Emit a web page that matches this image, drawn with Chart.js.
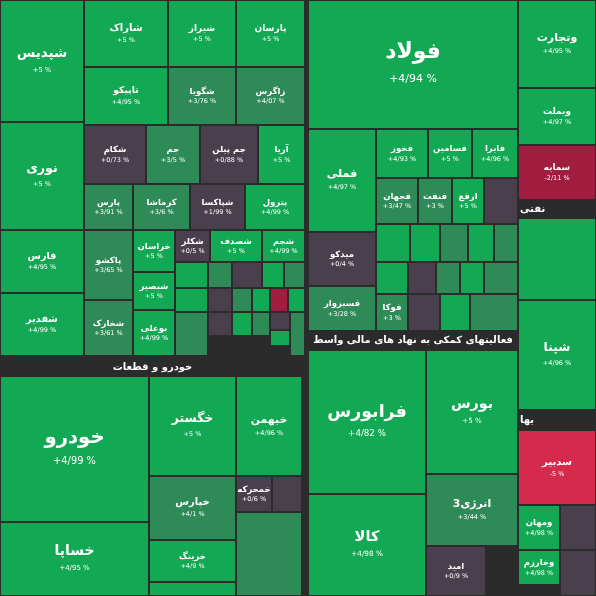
<!DOCTYPE html>
<html><head><meta charset="utf-8">
<script src="https://cdn.jsdelivr.net/npm/chart.js@4.4.0/dist/chart.umd.min.js"></script>
<style>body{margin:0;background:#2b2b2b}canvas{display:block}</style>
</head><body><canvas id="c" width="596" height="596"></canvas>
<script>
const names=["شپدیس","نوری","فارس","شفدیر","شاراک","تاپیکو","شکام","پارس","پاکشو","شخارک","شیراز","پارسان","شگویا","زاگرس","جم","جم پیلن","آریا","کرماشا","شپاکسا","پترول","خراسان","شکلر","شصدف","شجم","شبصیر","بوعلی",
"خودرو","خساپا","خگستر","خبهمن","خپارس","خمحرکه","خرینگ","خصن",
"فولاد","فملی","فخوز","فسامین","فایرا","فجهان","فنفت","ارفع","","میدکو","فسبزوار","فوکا","فرابورس","بورس","کالا","انرژی3","امید",
"وتجارت","وبملت","سمایه","","شپنا","سدبیر","ومهان","وخارزم","","",
"","","","","","","","","","","","","","","","","","",
"","","","","","","","","","","","","","",""];
const values=[5,5,4.95,4.99,5,4.95,0.73,3.91,3.65,3.61,5,5,3.76,4.07,3.5,0.88,5,3.6,1.99,4.99,5,0.5,5,4.99,5,4.99,
4.99,4.95,5,4.96,4.1,0.6,4.9,4.9,
4.94,4.97,4.93,5,4.96,3.47,3,5,0.3,0.4,3.28,3,4.82,5,4.98,3.44,0.9,
4.95,4.97,-2.11,4.9,4.96,-5,4.98,4.98,0.5,0.5,
4.9,3.5,0.5,4.9,3.4,4.9,0.5,3.6,4.9,-1,4.9,3.5,0.5,4.9,3.5,4.9,0.5,3.5,
4.9,4.9,3.5,4.9,3.5,4.9,0.5,3.5,4.9,3.5,0.5,4.9,3.5,0.5,3.5];
const sectors=["خودرو و قطعات","فعالیتهای کمکی به نهاد های مالی واسط","نفتی","یها"];
// layout rectangles [x0,y0,x1,y1] in the 0..596 data space
const layout=[[0,0,84,122],[0,122,84,230],[0,230,84,293],[0,293,84,356],[84,0,168,67],[84,67,168,125],[84,125,146,184],[84,184,133,230],[84,230,133,300],[84,300,133,356],[168,0,236,67],[236,0,305,67],[168,67,236,125],[236,67,305,125],[146,125,200,184],[200,125,258,184],[258,125,305,184],[133,184,190,230],[190,184,245,230],[245,184,305,230],[133,230,175,272],[175,230,210,262],[210,230,262,262],[262,230,305,262],[133,272,175,310],[133,310,175,356],
[0,376,149,522],[0,522,149,596],[149,376,236,476],[236,376,302,476],[149,476,236,540],[236,476,272,512],[149,540,236,582],[149,582,236,596],
[308,0,518,129],[308,129,376,232],[376,129,428,178],[428,129,472,178],[472,129,518,178],[376,178,418,224],[418,178,452,224],[452,178,484,224],[484,178,518,224],[308,232,376,286],[308,286,376,331],[376,294,408,331],
[308,350,426,494],[426,350,518,474],[308,494,426,596],[426,474,518,546],[426,546,486,596],
[518,0,596,88],[518,88,596,145],[518,145,596,200],[518,218,596,300],[518,300,596,410],[518,430,596,505],[518,505,560,550],[518,550,560,585],[560,505,596,550],[560,550,596,596],
[175,262,208,288],[208,262,232,288],[232,262,262,288],[262,262,284,288],[284,262,305,288],[175,288,208,312],[208,288,232,312],[232,288,252,312],[252,288,270,312],[270,288,288,312],[288,288,305,312],[175,312,208,356],[208,312,232,336],[232,312,252,336],[252,312,270,336],[270,330,290,346],[270,312,290,330],[290,312,305,356],
[376,224,410,262],[410,224,440,262],[440,224,468,262],[468,224,494,262],[494,224,518,262],[376,262,408,294],[408,262,436,294],[436,262,460,294],[460,262,484,294],[484,262,518,294],[408,294,440,331],[440,294,470,331],[470,294,518,331],
[272,476,302,512],[236,512,302,596]];
const sectorLayout=[[0,358,305,376],[308,331,518,350],[518,200,596,218],[518,410,596,430]];
const fmt=v=>(v>0?"+":"")+String(v).replace(".","/")+" %";
const col=v=>v<=-4?"#d42a4c":v<0?"#a11d40":v<2?"#4a3f4c":v<4.4?"#2e8b57":"#13a853";
const fill={id:"tm",afterDatasetsDraw(ch){
 const c=ch.ctx,X=ch.scales.x,Y=ch.scales.y;
 c.save();c.textAlign="center";c.textBaseline="middle";
 layout.forEach((r,i)=>{
  const x0=X.getPixelForValue(r[0]),x1=X.getPixelForValue(r[2]),y0=Y.getPixelForValue(r[1]),y1=Y.getPixelForValue(r[3]);
  c.fillStyle=col(values[i]);c.fillRect(x0+1,y0+1,x1-x0-2,y1-y0-2);
  const w=x1-x0,h=y1-y0;if(!names[i]||w<28||h<26)return;
  const s=Math.max(8.5,Math.min(22,Math.sqrt(w*h)/7.5));
  c.fillStyle="#fff";c.font="bold "+s+"px 'DejaVu Sans'";
  c.fillText(names[i],(x0+x1)/2,(y0+y1)/2-s*0.55);
  c.font=Math.max(6.5,s*0.5)+"px 'DejaVu Sans'";
  c.fillText(fmt(values[i]),(x0+x1)/2,(y0+y1)/2+s*0.65);
 });
 sectorLayout.forEach((r,i)=>{
  const x0=X.getPixelForValue(r[0]),x1=X.getPixelForValue(r[2]),y0=Y.getPixelForValue(r[1]),y1=Y.getPixelForValue(r[3]);
  c.fillStyle="#2b2b2b";c.fillRect(x0,y0,x1-x0,y1-y0);
  c.fillStyle="#fff";c.font="bold 10px 'DejaVu Sans'";
  if(i>=2){c.textAlign="left";c.fillText(sectors[i],x0+2,(y0+y1)/2);c.textAlign="center";}
  else c.fillText(sectors[i],(x0+x1)/2,(y0+y1)/2);
 });
 c.restore();}};
new Chart(document.getElementById("c"),{type:"scatter",data:{datasets:[{data:[]}]},
 options:{responsive:false,animation:false,layout:{padding:0},plugins:{legend:{display:false},tooltip:{enabled:false}},
 scales:{x:{type:"linear",min:0,max:596,display:false},y:{type:"linear",min:0,max:596,reverse:true,display:false}}},
 plugins:[fill]});
</script></body></html>
